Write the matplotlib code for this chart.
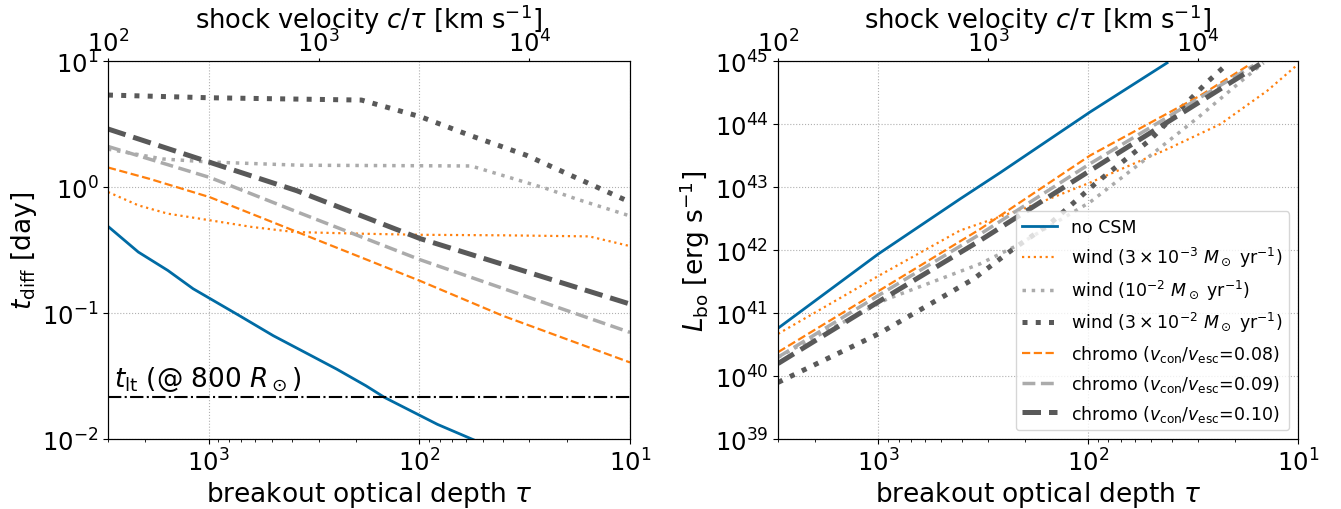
import numpy as np
import matplotlib
matplotlib.use("Agg")
import matplotlib.pyplot as plt

c_kms = 3.0e5

# ---- left panel: diffusion time [day] vs breakout optical depth
tau_nocsm = [3000, 2153, 1560, 1183, 714, 493, 326, 247, 179, 146, 82, 55.4]
tdiff_nocsm = [0.488, 0.305, 0.218, 0.156, 0.0955, 0.0662, 0.046, 0.036, 0.0265, 0.0214, 0.0131, 0.0099]

tau_w1 = [3000, 2153, 1560, 985, 621, 392, 196, 98.4, 39.3, 15.6, 10]
tdiff_w1 = [0.914, 0.716, 0.615, 0.545, 0.482, 0.44, 0.427, 0.418, 0.414, 0.406, 0.34]

tau_w2 = [3000, 1648, 984, 368, 56.7, 24.8, 17.8, 10]
tdiff_w2 = [2.0, 1.67, 1.58, 1.49, 1.47, 0.97, 0.80, 0.59]

tau_w3 = [3000, 985, 188, 98, 56.7, 31.1, 10]
tdiff_w3 = [5.37, 5.11, 4.9, 3.6, 2.55, 1.79, 0.76]

tau_c1 = [3000, 1898, 984, 99, 40, 10]
tdiff_c1 = [1.43, 1.16, 0.83, 0.18, 0.095, 0.0406]

tau_c2 = [3000, 984, 368, 99, 10]
tdiff_c2 = [2.10, 1.19, 0.622, 0.265, 0.0703]

tau_c3 = [3000, 984, 381, 99, 10]
tdiff_c3 = [2.89, 1.57, 0.935, 0.39, 0.118]

t_lt = 0.0215  # light travel time at 800 Rsun [day]

# ---- right panel: log10 breakout luminosity [erg/s]
tauL_nocsm = [3000, 997, 408, 262, 98, 42.1]
logL_nocsm = [40.76, 41.94, 42.81, 43.23, 44.19, 44.97]

tauL_w1 = [3000, 997, 408, 180, 98, 42.1, 23.4, 14.0, 10]
logL_w1 = [40.67, 41.59, 42.31, 42.72, 43.07, 43.60, 44.0, 44.53, 44.95]

tauL_w2 = [3000, 2000, 910, 328, 219, 98, 50.6, 29.3, 18.2, 14.6]
logL_w2 = [40.30, 40.62, 41.22, 41.78, 42.07, 42.76, 43.50, 44.13, 44.71, 44.97]

tauL_w3 = [3000, 997, 352, 227, 152, 90.6, 50.6, 27.2, 21.8]
logL_w3 = [39.90, 40.67, 41.54, 42.02, 42.42, 43.08, 43.75, 44.66, 44.95]

tauL_c1 = [3000, 997, 328, 98, 29.3, 16.9]
logL_c1 = [40.38, 41.35, 42.33, 43.50, 44.45, 44.95]

tauL_c2 = [3000, 997, 328, 98, 16.3]
logL_c2 = [40.30, 41.28, 42.25, 43.37, 44.93]

tauL_c3 = [3000, 997, 328, 98, 15.2]
logL_c3 = [40.20, 41.18, 42.15, 43.26, 44.95]

labels = ["no CSM",
          r"wind ($3\times10^{-3}\ M_\odot$ yr$^{-1}$)",
          r"wind ($10^{-2}\ M_\odot$ yr$^{-1}$)",
          r"wind ($3\times10^{-2}\ M_\odot$ yr$^{-1}$)",
          r"chromo ($v_{\rm con}/v_{\rm esc}$=0.08)",
          r"chromo ($v_{\rm con}/v_{\rm esc}$=0.09)",
          r"chromo ($v_{\rm con}/v_{\rm esc}$=0.10)"]

blue = "#006BA4"
orange = "#FF800E"
lgrey = "#ABABAB"
dgrey = "#595959"

styles = [dict(color=blue, ls="-", lw=2.0),
          dict(color=orange, ls=":", lw=1.6),
          dict(color=lgrey, ls=":", lw=2.5),
          dict(color=dgrey, ls=":", lw=3.6),
          dict(color=orange, ls="--", lw=1.6),
          dict(color=lgrey, ls="--", lw=2.5),
          dict(color=dgrey, ls="--", lw=3.6)]

plt.rcParams["font.size"] = 19
plt.rcParams["xtick.labelsize"] = 17.5
plt.rcParams["ytick.labelsize"] = 17.5

fig = plt.figure(figsize=(13.41, 5.1), dpi=100)
ax1 = fig.add_axes([0.0805, 0.137, 0.3893, 0.7414])
ax2 = fig.add_axes([0.5802, 0.137, 0.3878, 0.7414])

left_data = [(tau_nocsm, tdiff_nocsm), (tau_w1, tdiff_w1), (tau_w2, tdiff_w2),
             (tau_w3, tdiff_w3), (tau_c1, tdiff_c1), (tau_c2, tdiff_c2),
             (tau_c3, tdiff_c3)]
right_data = [(tauL_nocsm, logL_nocsm), (tauL_w1, logL_w1), (tauL_w2, logL_w2),
              (tauL_w3, logL_w3), (tauL_c1, logL_c1), (tauL_c2, logL_c2),
              (tauL_c3, logL_c3)]

for (t, v), st, lab in zip(left_data, styles, labels):
    ax1.plot(t, v, label=lab, **st)
for (t, v), st, lab in zip(right_data, styles, labels):
    ax2.plot(t, 10 ** np.array(v), label=lab, **st)

ax1.axhline(t_lt, color="k", ls="-.", lw=1.5)
ax1.text(2800, 0.0232, r"$t_{\rm lt}$ (@ 800 $R_\odot$)", fontsize=19,
         ha="left", va="bottom")

ax1.set_ylim(1e-2, 1e1)
ax2.set_ylim(1e39, 1e45)
ax1.set_ylabel(r"$t_{\rm diff}$ [day]", labelpad=2)
ax2.set_ylabel(r"$L_{\rm bo}$ [erg s$^{-1}$]", labelpad=2)

for ax in (ax1, ax2):
    ax.set_xscale("log")
    ax.set_yscale("log")
    ax.set_xlim(3000, 10)
    ax.set_xlabel(r"breakout optical depth $\tau$", labelpad=2)
    ax.grid(True, which="major", ls=":", color="#b0b0b0", lw=0.8)
    top = ax.twiny()
    top.set_xscale("log")
    top.set_xlim(c_kms / 3000, c_kms / 10)
    top.minorticks_off()
    top.tick_params(axis="x", pad=0.5, length=2.5)
    top.set_xlabel(r"shock velocity $c/\tau$ [km s$^{-1}$]", fontsize=18.5)
    top.xaxis.set_label_coords(0.5, 1.087)

ax2.legend(loc="lower right", fontsize=12.5)

fig.savefig("out.png", dpi=100)
